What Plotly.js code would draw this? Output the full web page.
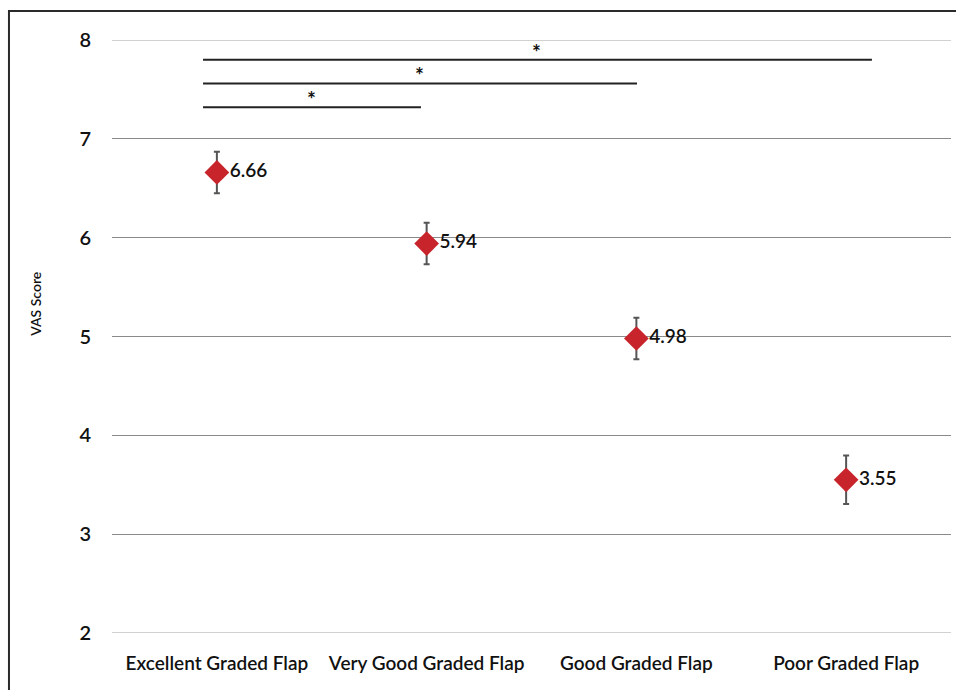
<!DOCTYPE html>
<html><head><meta charset="utf-8">
<script src="https://cdn.plot.ly/plotly-3.0.1.min.js"></script>
<style>body{margin:0;background:#fff}#chart{width:956px;height:690px}</style>
</head><body><div id="chart"></div>
<script>
const categories = ["Excellent Graded Flap", "Very Good Graded Flap", "Good Graded Flap", "Poor Graded Flap"];
const vasMeans = [6.66, 5.94, 4.98, 3.55];
const vasErrors = [0.21, 0.21, 0.21, 0.245];
const meanLabels = ["6.66", "5.94", "4.98", "3.55"];
// significance comparisons (x in category index units, y in VAS units)
const sigStart = [-0.066, -0.066, -0.066];
const sigEnd = [0.973, 2.003, 3.123];
const sigLevel = [7.32, 7.56, 7.80];
const sigStarX = [0.45, 0.965, 1.525];
const sigLabel = ["*", "*", "*"];
const yTicks = [2, 3, 4, 5, 6, 7, 8];

const font = "Lato, 'Open Sans', sans-serif";
const xIdx = categories.map((c, i) => i);

const trace = {
  type: "scatter", mode: "markers+text",
  x: xIdx, y: vasMeans,
  text: meanLabels, textposition: "middle right",
  textfont: {family: font, size: 19, color: "#111111", weight: 600},
  marker: {symbol: "diamond", size: 19, color: "#c8242b"},
  error_y: {type: "data", array: vasErrors, visible: true, color: "#555555", thickness: 2, width: 3},
  cliponaxis: false, showlegend: false, hoverinfo: "skip"
};

const shapes = [];
// outermost gridlines (lighter, at range edges)
[yTicks[0], yTicks[yTicks.length - 1]].forEach(v => {
  shapes.push({type: "line", xref: "paper", yref: "y", x0: 0, x1: 1, y0: v, y1: v,
    line: {color: "#c2c2c2", width: 1.5}, layer: "below"});
});
for (let i = 0; i < sigStart.length; i++) {
  shapes.push({type: "line", xref: "x", yref: "y", x0: sigStart[i], x1: sigEnd[i], y0: sigLevel[i], y1: sigLevel[i],
    line: {color: "#222222", width: 2}});
}
// outer frame (top and left edges visible)
shapes.push({type: "rect", xref: "paper", yref: "paper", x0: -0.1228, x1: 1.05, y0: -0.2, y1: 1.0489,
  line: {color: "#2a2a2a", width: 2}, layer: "above"});

const annotations = sigStarX.map((x, i) => ({
  x: x, y: sigLevel[i], xref: "x", yref: "y", text: "<b>" + sigLabel[i] + "</b>", showarrow: false,
  yanchor: "bottom", yshift: -6, font: {family: font, size: 21, color: "#111"}
}));
annotations.push({text: "VAS Score", xref: "paper", yref: "paper", x: -0.0906, y: 0.555, textangle: -90,
  showarrow: false, xanchor: "center", yanchor: "middle", font: {family: font, size: 14, color: "#111", weight: 600}});

const layout = {
  width: 956, height: 690,
  margin: {l: 112, r: 5, t: 40, b: 57},
  paper_bgcolor: "#ffffff", plot_bgcolor: "#ffffff",
  xaxis: {
    range: [-0.5, 3.5], tickmode: "array", tickvals: xIdx, ticktext: categories,
    showgrid: false, zeroline: false, showline: false, ticks: "",
    ticklabelstandoff: 17, tickfont: {family: font, size: 19, color: "#111", weight: 600}
  },
  yaxis: {
    range: [2, 8], tickmode: "array", tickvals: yTicks, ticktext: yTicks.map(String),
    showgrid: true, gridcolor: "#8a8a8a", gridwidth: 1.3, zeroline: false, showline: false,
    ticks: "", ticklabelstandoff: 20, tickfont: {family: font, size: 20, color: "#111", weight: 600}
  },
  shapes: shapes, annotations: annotations
};

Plotly.newPlot("chart", [trace], layout, {displayModeBar: false, staticPlot: true});
</script></body></html>
